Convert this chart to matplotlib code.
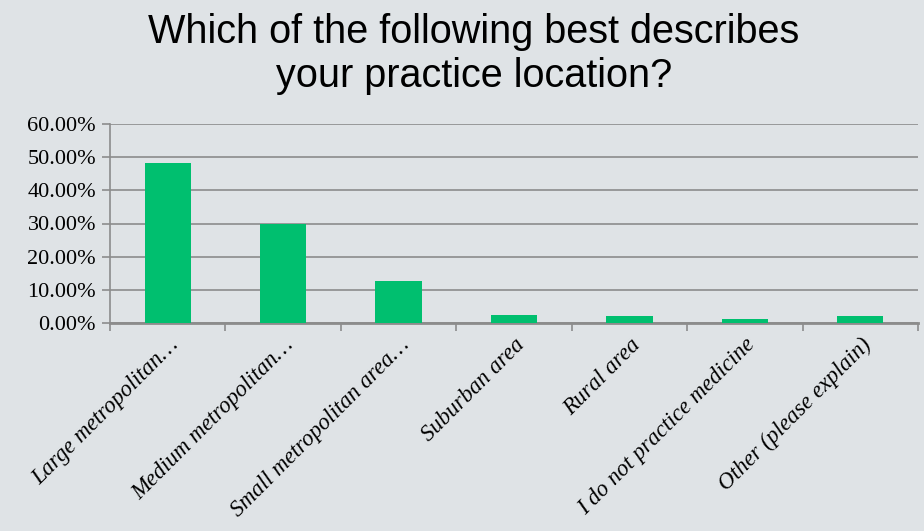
import matplotlib.pyplot as plt
from matplotlib.ticker import PercentFormatter

categories = ['Large metropolitan\u2026', 'Medium metropolitan\u2026', 'Small metropolitan area\u2026',
              'Suburban area', 'Rural area', 'I do not practice medicine', 'Other (please explain)']
values = [48.2, 29.8, 12.7, 2.5, 2.1, 1.1, 2.1]
y_ticks = [0, 10, 20, 30, 40, 50, 60]

bg = '#dfe3e6'
grid_col = '#8c8c8c'

fig = plt.figure(figsize=(9.24, 5.31), dpi=100, facecolor=bg)
ax = fig.add_axes([110 / 924, 1 - 323 / 531, (918 - 110) / 924, (323 - 124) / 531])
ax.set_facecolor(bg)

x = range(len(categories))
ax.bar(x, values, width=0.4, color='#00bf6f', zorder=3)

ax.set_xlim(-0.5, len(categories) - 0.5)
ax.set_ylim(0, 60)
ax.set_yticks(y_ticks)
ax.yaxis.set_major_formatter(PercentFormatter(decimals=2))
ax.grid(axis='y', color=grid_col, linewidth=1.2, zorder=0)

ax.set_xticks([i + 0.5 for i in range(-1, len(categories))])
ax.set_xticklabels([])
ax.set_xticks(list(x), minor=True)
ax.set_xticklabels(categories, minor=True, rotation=45, ha='right', va='top',
                   rotation_mode='anchor', fontsize=16.5, family='Liberation Serif', style='italic')
ax.tick_params(axis='x', which='major', length=6, color=grid_col, width=1.2)
ax.tick_params(axis='x', which='minor', length=0, pad=8)
ax.tick_params(axis='y', length=6, color=grid_col, width=1.2, labelsize=16, pad=4)
for lab in ax.get_yticklabels():
    lab.set_family('Liberation Serif')

for s in ['top', 'right']:
    ax.spines[s].set_visible(False)
ax.spines['left'].set_color(grid_col)
ax.spines['left'].set_linewidth(1.2)
ax.spines['bottom'].set_color(grid_col)
ax.spines['bottom'].set_linewidth(2)

fig.text(474 / 924, 1 - 54 / 531, 'Which of the following best describes\nyour practice location?',
         ha='center', va='center', fontsize=28.5, family='Liberation Sans', linespacing=1.2)

plt.savefig('out.png', dpi=100, facecolor=bg)
